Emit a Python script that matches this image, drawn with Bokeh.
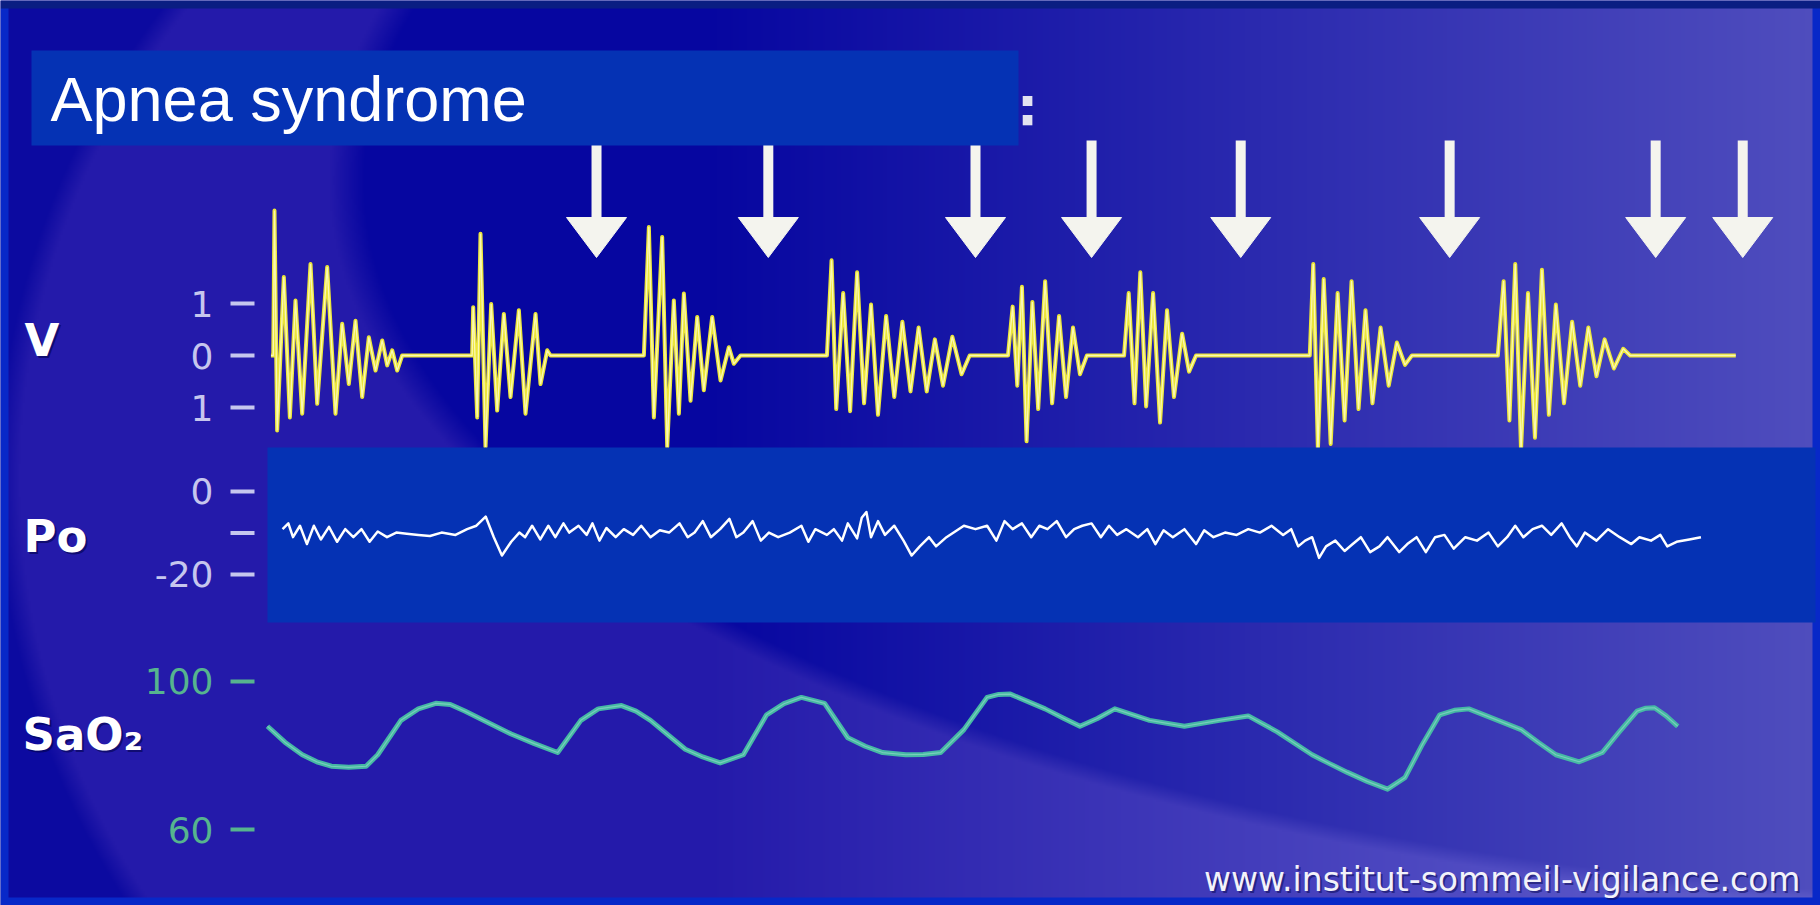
import numpy as np
from bokeh.plotting import figure
from bokeh.models import Range1d
from bokeh.core.properties import value
from bokeh.embed import file_html
from bokeh.resources import INLINE

# ---------------- data ----------------
title_text = "Apnea syndrome"
source_text = "www.institut-sommeil-vigilance.com"
channel_names = ["V", "Po", "SaO₂"]

# V : airflow, time in s
v_time = [0.6, 1.0, 1.21, 1.67, 2.82, 3.86, 4.83, 5.98, 7.42, 8.57, 10.29, 11.72, 12.87, 14.02, 15.17, 16.32,
          17.47, 18.62, 19.77, 20.63, 21.49, 22.35, 23.21,
          35.27, 35.45, 36.14, 36.71, 37.57, 38.55, 39.58, 40.73, 41.88, 43.32, 44.46, 46.19, 47.05, 48.20, 48.77,
          64.86, 65.72, 66.58, 68.01, 68.88, 70.02, 70.89, 71.75, 72.90, 74.05, 75.19, 76.63, 78.07, 79.50, 80.36, 81.51,
          96.4, 97.2, 98.0, 99.2, 100.4, 101.6, 102.8, 104.0, 105.2, 106.6, 108.0, 109.4, 110.8, 112.2, 113.6, 115.0,
          116.4, 118.0, 119.6, 121.0,
          127.6, 128.4, 129.2, 130.0, 130.8, 131.8, 132.8, 134.0, 135.2, 136.4, 137.6, 138.8, 140.0, 141.2,
          147.6, 148.4, 149.4, 150.4, 151.4, 152.6, 153.8, 155.0, 156.2, 157.6, 158.8, 160.0,
          179.6, 180.2, 181.0, 182.0, 183.2, 184.4, 185.6, 186.8, 188.0, 189.2, 190.4, 191.8, 193.2, 194.6, 196.0, 197.2,
          212.0, 213.0, 214.0, 215.0, 216.0, 217.2, 218.4, 219.6, 220.8, 222.0, 223.4, 224.8, 226.2, 227.6, 229.0,
          230.4, 232.0, 233.6, 234.8, 253.0]
v_val = [0, 0, 2.79, -1.44, 1.51, -1.19, 1.06, -1.12, 1.76, -0.93, 1.70, -1.12, 0.61, -0.55, 0.67, -0.80,
         0.35, -0.29, 0.29, -0.19, 0.10, -0.29, 0,
         0, 0.93, -1.19, 2.34, -1.76, 0.99, -1.06, 0.80, -0.80, 0.87, -1.12, 0.80, -0.55, 0.10, 0,
         0, 2.47, -1.19, 2.28, -1.76, 1.06, -1.12, 1.19, -0.87, 0.74, -0.67, 0.74, -0.48, 0.16, -0.16, 0,
         0, 1.83, -1.03, 1.2, -1.07, 1.6, -0.92, 0.98, -1.14, 0.76, -0.8, 0.65, -0.69, 0.54, -0.69, 0.31,
         -0.58, 0.36, -0.36, 0,
         0, 0.94, -0.58, 1.32, -1.65, 1.03, -1.03, 1.43, -0.92, 0.76, -0.8, 0.54, -0.36, 0,
         0, 1.2, -0.92, 1.6, -0.98, 1.2, -1.29, 0.87, -0.8, 0.42, -0.31, 0,
         0, 1.76, -1.81, 1.47, -1.7, 1.2, -1.25, 1.43, -1.03, 0.87, -0.92, 0.54, -0.58, 0.25, -0.18, 0,
         0, 1.43, -1.25, 1.76, -1.81, 1.2, -1.58, 1.65, -1.14, 0.98, -0.92, 0.65, -0.58, 0.54, -0.4,
         0.31, -0.25, 0.13, 0, 0]

# Po : oesophageal pressure, time in s
po_time = [2.6, 3.6, 4.4, 5.6, 6.8, 8.0, 9.2, 10.6, 12.0, 13.4, 14.8, 16.2, 17.6, 19.0, 20.6, 22.2, 24.0, 26.0,
           28.0, 30.0, 32.4, 34.4, 36.0, 37.6, 39.0, 40.4, 42.0, 43.4, 44.4, 45.6, 47.0, 48.4, 49.6, 51.0, 52.0,
           53.6, 55.0, 56.0, 57.2, 58.4, 60.0, 61.4, 63.0, 64.4, 66.0, 67.6, 69.2, 71.0, 72.4, 73.6, 75.0, 76.4,
           78.0, 79.6, 80.8, 82.0, 83.6, 85.0, 86.4, 88.0, 90.0, 92.0, 93.2, 94.4, 96.4, 97.6, 99.0, 100.0, 101.6,
           102.4, 103.2, 104.0, 105.2, 106.4, 108.0, 109.6, 111.0, 112.4, 114.0, 115.2, 117.0, 120.0, 122.0, 124.0,
           125.6, 127.0, 128.4, 130.0, 131.6, 133.0, 134.4, 136.0, 137.6, 139.0, 140.4, 142.0, 143.6, 145.0, 146.4,
           148.0, 150.0, 151.6, 153.0, 154.4, 156.0, 158.0, 160.0, 161.4, 163.0, 165.0, 167.0, 169.0, 171.0, 173.0,
           175.0, 176.4, 177.6, 178.8, 180.0, 181.2, 182.4, 184.0, 185.6, 187.0, 188.4, 190.0, 191.6, 193.0, 195.0,
           196.4, 198.0, 199.6, 201.2, 202.8, 204.4, 206.4, 208.4, 210.4, 212.0, 213.6, 215.0, 216.4, 218.0, 219.6,
           221.2, 223.0, 224.4, 225.6, 227.0, 229.0, 231.0, 233.0, 235.0, 236.4, 238.4, 240.0, 241.2, 242.8, 245.0,
           247.0]
po_val = [-9.08, -7.69, -11.01, -8.25, -12.67, -8.25, -11.56, -8.52, -12.12, -9.08, -11.01, -9.08, -12.12, -9.63,
          -11.01, -9.90, -10.18, -10.46, -10.73, -9.90, -10.46, -9.08, -8.25, -6.04, -11.01, -15.43, -12.12, -9.90,
          -11.01, -8.25, -11.56, -8.25, -11.01, -7.69, -9.90, -8.25, -10.46, -7.69, -11.84, -8.80, -11.01, -9.08,
          -10.46, -8.25, -11.01, -9.35, -9.90, -7.69, -11.01, -9.90, -7.14, -11.01, -9.08, -6.59, -11.01, -9.90,
          -7.14, -11.84, -9.90, -11.01, -9.90, -8.25, -12.12, -9.08, -10.46, -9.08, -11.84, -7.69, -11.29, -6.31,
          -4.93, -11.01, -7.14, -10.46, -8.25, -11.84, -15.43, -13.22, -11.01, -13.22, -11.01, -8.25, -9.08, -8.25,
          -11.84, -7.14, -9.08, -7.69, -11.01, -8.25, -9.08, -7.14, -11.01, -9.08, -8.25, -7.69, -11.01, -8.25,
          -10.46, -9.08, -11.01, -9.08, -12.67, -9.35, -11.01, -9.08, -12.67, -9.35, -11.01, -9.90, -10.46, -9.08,
          -9.90, -8.25, -10.46, -9.08, -13.22, -11.84, -11.01, -15.99, -13.22, -11.84, -14.33, -12.67, -11.01,
          -14.60, -13.22, -11.01, -14.60, -12.67, -11.01, -14.60, -11.01, -10.46, -13.77, -11.01, -11.84, -9.90,
          -13.22, -11.01, -8.25, -11.01, -9.08, -8.25, -10.46, -7.69, -11.01, -13.22, -9.90, -11.84, -9.08, -11.01,
          -12.67, -11.01, -11.84, -10.46, -13.22, -12.12, -11.56, -11.01]

# SaO2 : oxygen saturation (%), time in s
sao2_time = [0.0, 3.0, 6.0, 8.5, 11.0, 14.0, 17.0, 19.0, 23.0, 26.0, 29.0, 31.5, 34.0, 42.0, 46.0, 50.0, 54.0, 57.0,
             61.0, 63.5, 66.0, 72.0, 75.0, 78.0, 82.0, 86.0, 89.0, 92.0, 96.0, 100.0, 103.0, 106.0, 110.0, 113.0,
             116.0, 120.0, 124.0, 126.0, 128.0, 134.0, 137.0, 140.0, 143.0, 146.0, 152.0, 158.0, 164.0, 169.0,
             174.0, 180.0, 183.0, 186.0, 189.5, 193.0, 196.0, 199.0, 202.0, 204.5, 207.0, 212.0, 216.0, 219.0,
             222.0, 226.0, 230.0, 233.0, 236.0, 237.5, 239.0, 241.0, 243.0]
sao2_val = [87.9, 83.6, 80.2, 78.3, 77.1, 76.8, 77.1, 80.2, 89.5, 92.6, 94.1, 93.8, 92.0, 85.8, 83.2, 80.8, 89.5,
            92.6, 93.5, 92.0, 89.5, 81.7, 79.6, 78.0, 80.2, 91.0, 94.0, 95.7, 94.1, 84.8, 82.5, 80.8, 80.2, 80.3,
            80.8, 87.0, 95.7, 96.5, 96.6, 92.6, 90.2, 87.9, 90.0, 92.6, 89.5, 87.9, 89.5, 90.7, 86.4, 80.2, 77.8,
            75.5, 73.0, 70.9, 74.0, 83.0, 91.0, 92.2, 92.6, 89.5, 87.0, 83.5, 80.2, 78.3, 80.8, 86.5, 92.0, 92.8,
            92.9, 90.7, 87.9]

# event arrows (s)
arrow_time = [56.7, 86.3, 122.0, 142.0, 167.7, 203.7, 239.2, 254.2]

# axis ticks
v_ticks = [1, 0, -1]
v_tick_labels = ["1", "0", "1"]
po_ticks = [0, -10, -20]
po_tick_labels = ["0", "", "-20"]
sao2_ticks = [100, 60]
sao2_tick_labels = ["100", "60"]

# ---------------- figure ----------------
W, H = 1820, 905
p = figure(width=W, height=H, output_backend="svg", toolbar_location=None,
           x_range=Range1d(-46.0, 267.6), y_range=Range1d(0, 1),
           x_axis_location=None, y_axis_location=None, min_border=0,
           outline_line_color=None, background_fill_color="#0808a0",
           border_fill_color="#0808a0")
p.extra_x_ranges = {"px": Range1d(0, 1820)}
p.extra_y_ranges = {"py": Range1d(905, 0), "img": Range1d(0, 1),
                    "v": Range1d(-10.577, 6.827), "po": Range1d(-99.76, 118.31),
                    "sa": Range1d(39.46, 284.05)}
p.grid.visible = False

# ---------------- decorative background ----------------
nx, ny = 910, 453
X = (np.arange(nx) + 0.5) * (1820 / nx)
Y = 905 - (np.arange(ny) + 0.5) * (905 / ny)
XX, YY = np.meshgrid(X, Y)


def soft(d, w):
    return np.clip(0.5 - d / (2 * w), 0, 1)


e1 = np.sqrt(((XX - 908) / 900) ** 2 + ((YY - 480) / 817) ** 2) - 1
in1 = np.maximum(soft(e1, 0.012), (XX > 908).astype(float))
e2 = np.sqrt(((XX - 2100) / 1753) ** 2 + ((YY - 180) / 726) ** 2) - 1
in2 = soft(e2, 0.01)
g = np.clip((XX - 700) / 1120, 0, 1)[..., None]
dark = np.array([12, 10, 160], float)
band = np.array([36, 26, 170], float) * (1 - g) + np.array([100, 98, 205], float) * g
core = np.array([6, 6, 160], float) * (1 - g) + np.array([80, 78, 190], float) * g
i1 = in1[..., None]
i2 = in2[..., None]
col = dark * (1 - i1) + i1 * (band * (1 - i2) + core * i2)
# thin outer frame of the slide
edge = ((XX < 8) | (XX > 1812) | (YY < 8) | (YY > 897))[..., None]
col = np.where(edge, np.array([8, 40, 200], float), col)
top = (YY < 8)[..., None]
col = np.where(top, np.array([10, 30, 130], float), col)
rgba = np.empty((ny, nx, 4), dtype=np.uint8)
rgba[..., :3] = np.clip(col, 0, 255).astype(np.uint8)
rgba[..., 3] = 255
img = rgba.view(np.uint32).reshape(ny, nx)
p.image_rgba(image=[img], x=0, y=0, dw=1820, dh=1, x_range_name="px", y_range_name="img")

# ---------------- arrows ----------------
n_a = len(arrow_time)
p.segment(x0=arrow_time, x1=arrow_time, y0=[140] * n_a, y1=[222] * n_a, y_range_name="py",
          line_width=10, line_color="#f4f4ee", line_cap="butt")
hw = 5.17
p.patches(xs=[[t - hw, t + hw, t] for t in arrow_time], ys=[[217, 217, 257]] * n_a,
          y_range_name="py", fill_color="#f4f4ee", line_color="#f4f4ee", line_width=1)

# title box
p.quad(left=[31], right=[1018], top=[50], bottom=[145], x_range_name="px", y_range_name="py",
       fill_color="#0532b4", line_color=None)
p.text(x=[50], y=[98], text=[title_text], x_range_name="px", y_range_name="py",
       text_font=value("Liberation Sans"), text_font_size="63px", text_color="white",
       text_baseline="alphabetic", text_align="left")
p.text(x=[1027], y=[106], text=[":"], x_range_name="px", y_range_name="py",
       text_font=value("DejaVu Sans"), text_font_style="bold", text_font_size="54px",
       text_color="#e2e2f0", text_baseline="alphabetic", text_align="center")

# ---------------- V trace ----------------
p.line(v_time, v_val, y_range_name="v", line_color="#ece63a", line_width=4, line_join="round")
p.line(v_time, v_val, y_range_name="v", line_color="#fffde0", line_width=1.3, line_alpha=0.75)

# Po panel + trace
p.quad(left=[267], right=[1815], top=[447], bottom=[622], x_range_name="px", y_range_name="py",
       fill_color="#0532b4", line_color=None)
p.line(po_time, po_val, y_range_name="po", line_color="white", line_width=2.5, line_join="round")

# SaO2 trace
p.line(sao2_time, sao2_val, y_range_name="sa", line_color="#46b9a4", line_width=5, line_join="round")
p.line(sao2_time, sao2_val, y_range_name="sa", line_color="#9adccc", line_width=1.2, line_alpha=0.6,
       line_join="round")

# ---------------- channel labels ----------------
lab_x = [24, 23, 22]
lab_y = [340, 536, 734]
p.text(x=[v + 2 for v in lab_x], y=[v + 2 for v in lab_y], text=channel_names, x_range_name="px",
       y_range_name="py", text_font=value("DejaVu Sans"), text_font_style="bold", text_font_size="45px",
       text_color="#000040", text_alpha=0.55, text_baseline="alphabetic")
p.text(x=lab_x, y=lab_y, text=channel_names, x_range_name="px", y_range_name="py",
       text_font=value("DejaVu Sans"), text_font_style="bold", text_font_size="45px",
       text_color="white", text_baseline="alphabetic")


# tick labels and dashes
def ticks(vals, labels, rng, color):
    n = len(vals)
    p.text(x=[213] * n, y=vals, text=labels, x_range_name="px", y_range_name=rng,
           text_font=value("DejaVu Sans"), text_font_size="36px", text_color=color,
           text_align="right", text_baseline="middle")
    p.segment(x0=[230] * n, x1=[254] * n, y0=vals, y1=vals, x_range_name="px", y_range_name=rng,
              line_width=4, line_color=color)


ticks(v_ticks, v_tick_labels, "v", "#c6c6ee")
ticks(po_ticks, po_tick_labels, "po", "#c6c6ee")
ticks(sao2_ticks, sao2_tick_labels, "sa", "#56b48e")

# source
p.text(x=[1802], y=[881], text=[source_text], x_range_name="px", y_range_name="py",
       text_font=value("DejaVu Sans"), text_font_size="33px", text_color="#101060", text_alpha=0.6,
       text_align="right", text_baseline="alphabetic")
p.text(x=[1800], y=[879], text=[source_text], x_range_name="px", y_range_name="py",
       text_font=value("DejaVu Sans"), text_font_size="33px", text_color="#f2f2fa",
       text_align="right", text_baseline="alphabetic")

open("out.html", "w").write(file_html(p, INLINE))
